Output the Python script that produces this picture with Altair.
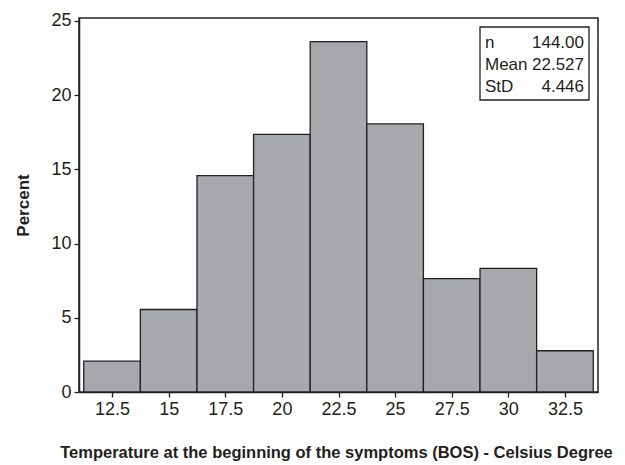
import altair as alt
import pandas as pd

# Histogram data (percent of n=144)
bin_centers = [12.5, 15, 17.5, 20, 22.5, 25, 27.5, 30, 32.5]
percents = [2.08, 5.56, 14.58, 17.36, 23.61, 18.06, 7.64, 8.33, 2.78]
bin_width = 2.5

tick_values = [12.5, 15, 17.5, 20, 22.5, 25, 27.5, 30, 32.5]
y_ticks = [0, 5, 10, 15, 20, 25]

stat_names = ["n", "Mean", "StD"]
stat_values = ["144.00", "22.527", "4.446"]

FONT = "Liberation Sans Narrow, Arial Narrow, Liberation Sans, Arial, sans-serif"
DARK = "#231f20"

df = pd.DataFrame({"center": bin_centers, "pct": percents})
df["lo"] = df["center"] - bin_width / 2
df["hi"] = df["center"] + bin_width / 2

xscale = alt.Scale(domain=[11.04, 33.96], nice=False, zero=False)
yscale = alt.Scale(domain=[0, 25.2], nice=False)

bars = alt.Chart(df).mark_rect(
    fill="#a7a8ab", stroke=DARK, strokeWidth=1.3
).encode(
    x=alt.X("lo:Q", scale=xscale,
            axis=alt.Axis(values=tick_values, format=".1~f", title="Temperature at the beginning of the symptoms (BOS) - Celsius Degree",
                          domain=True, domainColor=DARK, domainWidth=1.5,
                          grid=False, tickSize=5, tickColor=DARK, tickWidth=1.3,
                          labelFont=FONT, labelFontSize=18, labelColor=DARK, labelPadding=3,
                          titleFont=FONT, titleFontSize=16.5, titleFontWeight="bold", titleColor=DARK,
                          titleX=257, titleY=60, titleBaseline="middle")),
    x2="hi:Q",
    y=alt.Y("pct:Q", scale=yscale,
            axis=alt.Axis(values=y_ticks, title="Percent",
                          domain=True, domainColor=DARK, domainWidth=1.5,
                          grid=False, tickSize=5,
                          tickColor=DARK, tickWidth=1.3,
                          labelFont=FONT, labelFontSize=18, labelColor=DARK, labelPadding=3,
                          titleFont=FONT, titleFontSize=17, titleFontWeight="bold", titleColor=DARK,
                          titleX=-56, titleY=187, titleBaseline="middle", titleAngle=-90)),
    y2=alt.datum(0),
)

stats = pd.DataFrame({"name": stat_names, "val": stat_values, "row": [0, 1, 2]})

box = alt.Chart(stats).mark_rect(fill="white", stroke=DARK, strokeWidth=1.3).encode(
    x=alt.value(401), x2=alt.value(510), y=alt.value(9), y2=alt.value(82)
).transform_filter("datum.row == 0")

names = alt.Chart(stats).mark_text(
    align="left", baseline="alphabetic", font=FONT, fontSize=17, color=DARK
).transform_calculate(py="30 + datum.row * 22").encode(
    x=alt.value(406), y=alt.Y("py:Q", scale=None), text="name:N"
)

vals = alt.Chart(stats).mark_text(
    align="right", baseline="alphabetic", font=FONT, fontSize=17, color=DARK
).transform_calculate(py="30 + datum.row * 22").encode(
    x=alt.value(505), y=alt.Y("py:Q", scale=None), text="val:N"
)

chart = alt.layer(bars, box, names, vals).properties(
    width=519, height=374,
    autosize=alt.AutoSizeParams(type="none"),
    padding={"left": 71, "top": 10, "right": 17, "bottom": 69},
    background="white",
).configure_view(stroke=DARK, strokeWidth=1.5)

chart.save("out.html", embed_options={"renderer": "svg", "actions": False})
